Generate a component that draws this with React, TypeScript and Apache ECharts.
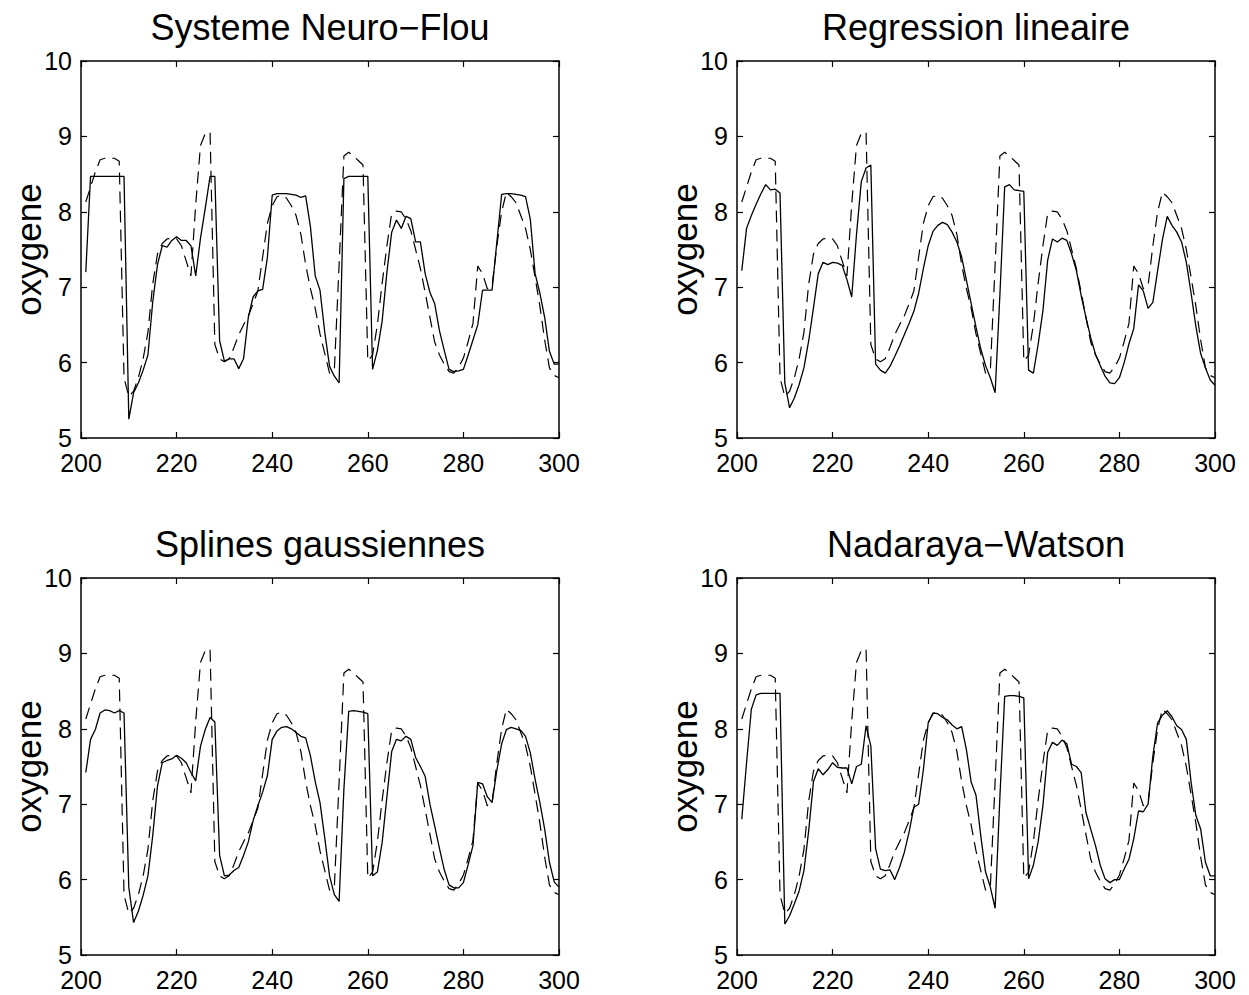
import React, { useEffect, useRef } from "react";
import * as echarts from "echarts";

// ---- data ----
const TIME_START = 201;
const xTickValues = [200, 220, 240, 260, 280, 300];
const yTickValues = [5, 6, 7, 8, 9, 10];

// measured oxygen (dashed line), t = 201..300
const observed = [
  8.13, 8.33, 8.53, 8.69, 8.71, 8.71, 8.71, 8.67, 5.80, 5.55,
  5.62, 5.80, 6.05, 6.40, 7.04, 7.44, 7.58, 7.64, 7.65, 7.64,
  7.55, 7.35, 7.15, 8.10, 8.88, 9.04, 9.06, 6.24, 6.05, 6.01,
  6.05, 6.20, 6.37, 6.50, 6.62, 6.78, 6.95, 7.40, 7.85, 8.08,
  8.20, 8.22, 8.18, 8.08, 7.95, 7.70, 7.30, 6.98, 6.72, 6.38,
  6.12, 5.86, 5.90, 7.30, 8.74, 8.79, 8.74, 8.68, 8.62, 6.02,
  6.10, 6.50, 7.05, 7.55, 7.98, 8.01, 8.00, 7.90, 7.75, 7.50,
  7.25, 6.93, 6.60, 6.27, 6.10, 5.98, 5.88, 5.86, 5.94, 6.06,
  6.28, 6.52, 7.28, 7.18, 6.98, 7.02, 7.55, 8.00, 8.26, 8.20,
  8.12, 7.95, 7.78, 7.50, 7.13, 6.75, 6.30, 5.93, 5.83, 5.80,
];

const neuroFlou = [
  7.20, 8.47, 8.47, 8.47, 8.47, 8.47, 8.47, 8.47, 8.47, 5.25,
  5.60, 5.73, 5.90, 6.10, 6.80, 7.30, 7.55, 7.53, 7.62, 7.67,
  7.62, 7.62, 7.55, 7.15, 7.65, 8.05, 8.47, 8.47, 6.29, 6.02,
  6.05, 6.05, 5.92, 6.05, 6.60, 6.87, 6.95, 6.97, 7.40, 8.22,
  8.24, 8.24, 8.24, 8.23, 8.22, 8.19, 8.21, 7.80, 7.15, 6.96,
  6.40, 5.95, 5.82, 5.73, 8.44, 8.47, 8.47, 8.47, 8.47, 8.47,
  5.91, 6.16, 6.55, 7.20, 7.73, 7.89, 7.78, 7.94, 7.91, 7.60,
  7.60, 7.18, 6.93, 6.78, 6.42, 6.16, 5.91, 5.88, 5.89, 5.91,
  6.10, 6.30, 6.50, 6.96, 6.96, 6.96, 7.60, 8.23, 8.24, 8.24,
  8.23, 8.22, 8.20, 7.90, 7.18, 6.92, 6.60, 6.15, 5.98, 5.98,
];

const regressionLineaire = [
  7.22, 7.78, 7.95, 8.10, 8.24, 8.36, 8.29, 8.30, 8.25, 5.73,
  5.40, 5.53, 5.71, 5.93, 6.29, 6.73, 7.18, 7.33, 7.30, 7.33,
  7.32, 7.29, 7.10, 6.87, 7.70, 8.40, 8.58, 8.62, 5.98, 5.90,
  5.86, 5.95, 6.08, 6.22, 6.37, 6.52, 6.68, 6.92, 7.25, 7.55,
  7.74, 7.82, 7.86, 7.83, 7.73, 7.60, 7.40, 7.09, 6.78, 6.47,
  6.18, 5.96, 5.80, 5.60, 6.90, 8.33, 8.36, 8.29, 8.28, 8.27,
  5.90, 5.86, 6.24, 6.69, 7.36, 7.64, 7.60, 7.65, 7.62, 7.44,
  7.22, 6.89, 6.60, 6.33, 6.11, 5.96, 5.82, 5.73, 5.72, 5.80,
  6.00, 6.25, 6.45, 7.03, 6.95, 6.72, 6.80, 7.22, 7.63, 7.94,
  7.82, 7.73, 7.60, 7.33, 6.92, 6.48, 6.12, 5.93, 5.77, 5.70,
];

const splinesGaussiennes = [
  7.42, 7.86, 7.99, 8.21, 8.25, 8.24, 8.21, 8.24, 8.21, 5.90,
  5.43, 5.58, 5.79, 6.05, 6.58, 7.24, 7.55, 7.58, 7.60, 7.65,
  7.61, 7.55, 7.42, 7.31, 7.77, 7.99, 8.15, 8.09, 6.32, 6.05,
  6.06, 6.12, 6.16, 6.32, 6.50, 6.78, 6.98, 7.16, 7.38, 7.86,
  7.97, 8.02, 8.03, 8.00, 7.95, 7.90, 7.88, 7.64, 7.30, 7.02,
  6.55, 6.05, 5.80, 5.71, 7.20, 8.23, 8.24, 8.23, 8.22, 8.20,
  6.05, 6.10, 6.49, 7.10, 7.70, 7.86, 7.84, 7.90, 7.86, 7.62,
  7.50, 7.37, 7.00, 6.71, 6.41, 6.13, 5.93, 5.89, 5.89, 5.96,
  6.20, 6.45, 7.29, 7.27, 7.10, 7.02, 7.45, 7.80, 7.99, 8.02,
  8.00, 7.98, 7.90, 7.68, 7.33, 7.02, 6.67, 6.23, 5.97, 5.90,
];

const nadarayaWatson = [
  6.80, 7.55, 8.26, 8.45, 8.47, 8.47, 8.47, 8.47, 8.47, 5.41,
  5.52, 5.68, 5.85, 6.12, 6.65, 7.30, 7.47, 7.39, 7.46, 7.55,
  7.49, 7.48, 7.48, 7.27, 7.50, 7.53, 8.04, 7.77, 6.41, 6.14,
  6.12, 6.13, 6.00, 6.16, 6.36, 6.63, 6.96, 7.00, 7.46, 8.08,
  8.21, 8.20, 8.15, 8.12, 8.05, 8.00, 8.03, 7.72, 7.29, 7.12,
  6.58, 6.10, 5.90, 5.62, 7.10, 8.43, 8.44, 8.44, 8.43, 8.41,
  6.01, 6.19, 6.50, 6.98, 7.69, 7.82, 7.78, 7.85, 7.80, 7.53,
  7.50, 7.42, 6.89, 6.67, 6.45, 6.19, 6.01, 5.96, 6.00, 6.00,
  6.14, 6.27, 6.54, 6.91, 6.90, 7.00, 7.64, 8.08, 8.18, 8.24,
  8.16, 8.04, 7.99, 7.86, 7.29, 6.85, 6.67, 6.23, 6.05, 6.05,
];

const panelTitles = [
  "Systeme Neuro\u2212Flou",
  "Regression lineaire",
  "Splines gaussiennes",
  "Nadaraya\u2212Watson",
];
const panelModels = [neuroFlou, regressionLineaire, splinesGaussiennes, nadarayaWatson];
const yLabel = "oxygene";

// ---- layout ----
const FONT = '"Liberation Sans", Arial, Helvetica, sans-serif';
const GRID_W = 478;
const GRID_H = 377;
const gridOrigins = [
  { left: 81, top: 61 },
  { left: 737, top: 61 },
  { left: 81, top: 578 },
  { left: 737, top: 578 },
];

function toPairs(values: number[]) {
  return values.map((v, i) => [TIME_START + i, v]);
}

export default function App() {
  const ref = useRef<HTMLDivElement>(null);

  useEffect(() => {
    if (!ref.current) return;
    const chart = echarts.init(ref.current, null, { renderer: "svg" });

    const axisLine = { show: true, lineStyle: { color: "#000", width: 1.5 } };
    const tick = { show: true, inside: true, length: 6, lineStyle: { color: "#000", width: 1.2 } };

    const grids: any[] = [];
    const xAxes: any[] = [];
    const yAxes: any[] = [];
    const series: any[] = [];
    const graphics: any[] = [];

    gridOrigins.forEach((g, i) => {
      grids.push({ left: g.left, top: g.top, width: GRID_W, height: GRID_H, containLabel: false });
      const xMin = xTickValues[0];
      const xMax = xTickValues[xTickValues.length - 1];
      const yMin = yTickValues[0];
      const yMax = yTickValues[yTickValues.length - 1];
      // bottom x
      xAxes.push({
        type: "value", gridIndex: i, position: "bottom", min: xMin, max: xMax, interval: 20,
        axisLine, axisTick: tick, splitLine: { show: false },
        axisLabel: {
          show: true, color: "#000", fontSize: 25, fontFamily: FONT, margin: 16, lineHeight: 18,
        },
      });
      // top x (box)
      xAxes.push({
        type: "value", gridIndex: i, position: "top", min: xMin, max: xMax, interval: 20,
        axisLine, axisTick: tick, splitLine: { show: false }, axisLabel: { show: false },
      });
      // left y
      yAxes.push({
        type: "value", gridIndex: i, position: "left", min: yMin, max: yMax, interval: 1,
        axisLine, axisTick: tick, splitLine: { show: false },
        axisLabel: {
          show: true, color: "#000", fontSize: 25, fontFamily: FONT, margin: 9, lineHeight: 18,
        },
      });
      // right y (box)
      yAxes.push({
        type: "value", gridIndex: i, position: "right", min: yMin, max: yMax, interval: 1,
        axisLine, axisTick: tick, splitLine: { show: false }, axisLabel: { show: false },
      });

      series.push({
        type: "line", name: "observed", xAxisIndex: 2 * i, yAxisIndex: 2 * i,
        data: toPairs(observed), symbol: "none", showSymbol: false, silent: true,
        lineStyle: { color: "#000", width: 1.2, type: [12, 7] }, z: 2,
      });
      series.push({
        type: "line", name: panelTitles[i], xAxisIndex: 2 * i, yAxisIndex: 2 * i,
        data: toPairs(panelModels[i]), symbol: "none", showSymbol: false, silent: true,
        lineStyle: { color: "#000", width: 1.3, type: "solid" }, z: 3,
      });

      graphics.push({
        type: "text",
        x: g.left + GRID_W / 2,
        y: g.top - 34,
        style: {
          text: panelTitles[i], fill: "#000", fontSize: 36, fontFamily: FONT,
          align: "center", verticalAlign: "middle",
        },
      });
      graphics.push({
        type: "text",
        x: g.left - 53,
        y: g.top + GRID_H / 2,
        rotation: Math.PI / 2,
        style: {
          text: yLabel, fill: "#000", fontSize: 35, fontFamily: FONT,
          align: "center", verticalAlign: "middle",
        },
      });
    });

    chart.setOption({
      animation: false,
      backgroundColor: "#fff",
      grid: grids,
      xAxis: xAxes,
      yAxis: yAxes,
      series,
      graphic: graphics,
    });

    return () => chart.dispose();
  }, []);

  return (
    <div
      ref={ref}
      style={{ position: "absolute", left: 0, top: 0, width: 1249, height: 995, background: "#fff" }}
    />
  );
}
